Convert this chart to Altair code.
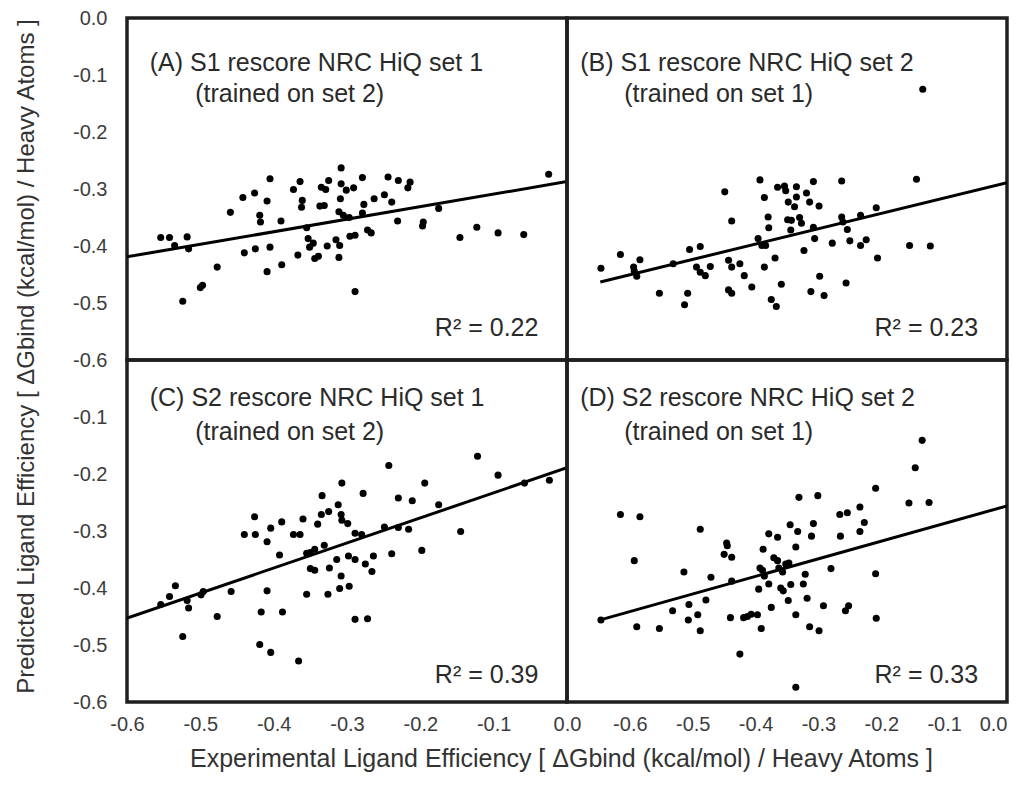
import altair as alt
import pandas as pd

# ---------------- data ----------------
# Panel A: S1 rescore NRC HiQ set 1 (trained on set 2)
a_x = [-0.554, -0.542, -0.535, -0.518, -0.516, -0.524, -0.500, -0.497, -0.477, -0.459,
       -0.442, -0.426, -0.409, -0.405, -0.419, -0.418, -0.390, -0.440, -0.425, -0.405,
       -0.409, -0.389, -0.373, -0.364, -0.361, -0.362, -0.335, -0.329, -0.325, -0.337,
       -0.331, -0.308, -0.308, -0.301, -0.291, -0.279, -0.309, -0.311, -0.305, -0.297,
       -0.277, -0.279, -0.263, -0.249, -0.239, -0.244, -0.230, -0.214, -0.217, -0.355,
       -0.367, -0.353, -0.346, -0.351, -0.344, -0.339, -0.327, -0.315, -0.310, -0.311,
       -0.296, -0.289, -0.272, -0.267, -0.231, -0.196, -0.197, -0.175, -0.146, -0.123,
       -0.094, -0.059, -0.025, -0.289]
a_y = [-0.385, -0.385, -0.399, -0.384, -0.405, -0.497, -0.473, -0.469, -0.437, -0.341,
       -0.315, -0.307, -0.321, -0.282, -0.346, -0.358, -0.356, -0.412, -0.405, -0.402,
       -0.445, -0.433, -0.301, -0.287, -0.320, -0.332, -0.297, -0.301, -0.285, -0.330,
       -0.329, -0.263, -0.291, -0.302, -0.298, -0.280, -0.317, -0.340, -0.346, -0.350,
       -0.327, -0.342, -0.317, -0.310, -0.323, -0.279, -0.285, -0.288, -0.298, -0.368,
       -0.416, -0.387, -0.395, -0.402, -0.422, -0.418, -0.400, -0.389, -0.399, -0.420,
       -0.383, -0.381, -0.372, -0.377, -0.356, -0.358, -0.365, -0.334, -0.385, -0.367,
       -0.377, -0.380, -0.274, -0.480]

# Panel B: S1 rescore NRC HiQ set 2 (trained on set 1)
b_x = [-0.646, -0.615, -0.594, -0.584, -0.589, -0.593, -0.531, -0.553, -0.505, -0.488,
       -0.508, -0.513, -0.494, -0.488, -0.480, -0.472, -0.449, -0.438, -0.443, -0.438,
       -0.425, -0.418, -0.443, -0.438, -0.406, -0.393, -0.386, -0.380, -0.379, -0.396,
       -0.390, -0.384, -0.386, -0.369, -0.359, -0.375, -0.367, -0.365, -0.354, -0.352,
       -0.335, -0.319, -0.348, -0.338, -0.335, -0.349, -0.343, -0.330, -0.327, -0.344,
       -0.323, -0.314, -0.299, -0.308, -0.308, -0.306, -0.312, -0.291, -0.298, -0.278,
       -0.263, -0.263, -0.261, -0.254, -0.250, -0.233, -0.233, -0.224, -0.256, -0.208,
       -0.206, -0.155, -0.122, -0.144, -0.134]
b_y = [-0.439, -0.415, -0.437, -0.424, -0.453, -0.444, -0.431, -0.483, -0.406, -0.401,
       -0.483, -0.503, -0.437, -0.446, -0.452, -0.436, -0.305, -0.356, -0.425, -0.437,
       -0.431, -0.452, -0.477, -0.483, -0.472, -0.284, -0.315, -0.349, -0.368, -0.387,
       -0.399, -0.399, -0.437, -0.421, -0.467, -0.494, -0.506, -0.297, -0.295, -0.303,
       -0.296, -0.307, -0.323, -0.331, -0.314, -0.354, -0.355, -0.350, -0.360, -0.372,
       -0.408, -0.323, -0.330, -0.287, -0.367, -0.387, -0.480, -0.487, -0.453, -0.395,
       -0.286, -0.349, -0.358, -0.371, -0.391, -0.346, -0.399, -0.389, -0.465, -0.333,
       -0.421, -0.399, -0.400, -0.283, -0.125]

# Panel C: S2 rescore NRC HiQ set 1 (trained on set 2)
c_x = [-0.554, -0.542, -0.534, -0.518, -0.516, -0.524, -0.499, -0.496, -0.477, -0.458,
       -0.440, -0.425, -0.426, -0.409, -0.404, -0.389, -0.392, -0.409, -0.417, -0.388,
       -0.419, -0.404, -0.366, -0.373, -0.364, -0.360, -0.355, -0.350, -0.344, -0.331,
       -0.350, -0.344, -0.355, -0.340, -0.335, -0.325, -0.334, -0.312, -0.308, -0.307,
       -0.299, -0.307, -0.289, -0.280, -0.278, -0.324, -0.314, -0.326, -0.308, -0.310,
       -0.297, -0.298, -0.289, -0.275, -0.266, -0.264, -0.289, -0.272, -0.249, -0.243,
       -0.239, -0.230, -0.230, -0.216, -0.211, -0.198, -0.194, -0.175, -0.145, -0.122,
       -0.094, -0.058, -0.024]
c_y = [-0.429, -0.415, -0.396, -0.422, -0.435, -0.485, -0.412, -0.406, -0.450, -0.406,
       -0.306, -0.306, -0.275, -0.319, -0.295, -0.284, -0.342, -0.405, -0.442, -0.442,
       -0.499, -0.513, -0.528, -0.306, -0.306, -0.279, -0.339, -0.338, -0.332, -0.325,
       -0.366, -0.369, -0.411, -0.288, -0.271, -0.266, -0.238, -0.254, -0.271, -0.281,
       -0.287, -0.216, -0.304, -0.306, -0.234, -0.365, -0.350, -0.411, -0.379, -0.401,
       -0.397, -0.344, -0.350, -0.358, -0.371, -0.344, -0.455, -0.454, -0.293, -0.185,
       -0.340, -0.242, -0.294, -0.297, -0.247, -0.334, -0.216, -0.254, -0.301, -0.169,
       -0.202, -0.216, -0.211]

# Panel D: S2 rescore NRC HiQ set 2 (trained on set 1)
d_x = [-0.646, -0.615, -0.584, -0.593, -0.589, -0.553, -0.532, -0.514, -0.506, -0.492,
       -0.507, -0.488, -0.488, -0.479, -0.471, -0.446, -0.445, -0.450, -0.438, -0.438,
       -0.440, -0.425, -0.419, -0.413, -0.407, -0.397, -0.395, -0.391, -0.388, -0.393,
       -0.389, -0.386, -0.379, -0.379, -0.365, -0.375, -0.371, -0.365, -0.363, -0.357,
       -0.360, -0.356, -0.348, -0.344, -0.352, -0.347, -0.345, -0.336, -0.331, -0.333,
       -0.336, -0.321, -0.324, -0.318, -0.314, -0.299, -0.311, -0.308, -0.301, -0.292,
       -0.280, -0.266, -0.254, -0.265, -0.257, -0.252, -0.234, -0.234, -0.227, -0.209,
       -0.209, -0.208, -0.156, -0.146, -0.135, -0.124, -0.336]
d_y = [-0.456, -0.271, -0.275, -0.352, -0.468, -0.471, -0.440, -0.372, -0.429, -0.447,
       -0.456, -0.297, -0.475, -0.421, -0.381, -0.321, -0.326, -0.341, -0.346, -0.388,
       -0.452, -0.516, -0.452, -0.450, -0.446, -0.447, -0.402, -0.471, -0.332, -0.365,
       -0.369, -0.379, -0.393, -0.305, -0.311, -0.434, -0.347, -0.352, -0.365, -0.372,
       -0.400, -0.405, -0.422, -0.394, -0.358, -0.356, -0.289, -0.328, -0.241, -0.301,
       -0.447, -0.376, -0.393, -0.418, -0.468, -0.475, -0.309, -0.287, -0.238, -0.431,
       -0.366, -0.271, -0.268, -0.309, -0.440, -0.431, -0.258, -0.301, -0.285, -0.225,
       -0.375, -0.453, -0.251, -0.189, -0.141, -0.250, -0.574]

# fitted lines (intercept at x = 0, slope, first x)
fit_intercept = [-0.287, -0.289, -0.189, -0.256]
fit_slope = [0.220, 0.269, 0.440, 0.309]
fit_start = [-0.65, -0.647, -0.65, -0.647]

panel_line1 = ["(A) S1 rescore NRC HiQ set 1", "(B) S1 rescore NRC HiQ set 2",
               "(C) S2 rescore NRC HiQ set 1", "(D) S2 rescore NRC HiQ set 2"]
panel_line2 = ["(trained on set 2)", "(trained on set 1)",
               "(trained on set 2)", "(trained on set 1)"]
r_squared = ["0.22", "0.23", "0.39", "0.33"]

x_domains = [[-0.6, 0.0], [-0.7, 0.0], [-0.6, 0.0], [-0.7, 0.0]]
x_tick_values = [-0.6, -0.5, -0.4, -0.3, -0.2, -0.1, 0.0]
y_tick_top = [0.0, -0.1, -0.2, -0.3, -0.4, -0.5, -0.6]
y_tick_bottom = [-0.1, -0.2, -0.3, -0.4, -0.5, -0.6]

x_title = "Experimental Ligand Efficiency [ \u0394Gbind (kcal/mol) / Heavy Atoms ]"
y_title = "Predicted Ligand Efficiency [ \u0394Gbind (kcal/mol) / Heavy Atoms ]"

# annotation anchors in data units
ann_x1 = [-0.569, -0.679, -0.569, -0.679]
ann_x2 = [-0.507, -0.609, -0.507, -0.609]
ann_xr = [-0.039, -0.046, -0.039, -0.046]
ann_y1 = [-0.079, -0.079, -0.066, -0.066]
ann_y2 = [-0.133, -0.133, -0.126, -0.126]
ann_yr = [-0.543, -0.543, -0.553, -0.553]

W, H = 440, 342
FONT = "Liberation Sans"
LABEL_EXPR = "replace(format(datum.value, '.1f'), '\u2212', '-')"

datasets = [(a_x, a_y), (b_x, b_y), (c_x, c_y), (d_x, d_y)]


def make_panel(i):
    xs, ys = datasets[i]
    pts = pd.DataFrame({"x": xs, "y": ys})
    x0 = fit_start[i]
    line = pd.DataFrame({"x": [x0, 0.0],
                         "y": [fit_intercept[i] + fit_slope[i] * x0, fit_intercept[i]]})
    left = i in (0, 2)
    bottom = i in (2, 3)

    xscale = alt.Scale(domain=x_domains[i], nice=False, zero=False)
    yscale = alt.Scale(domain=[-0.6, 0.0], nice=False, zero=False)

    if bottom:
        if left:
            xaxis = alt.Axis(values=x_tick_values, labelExpr=LABEL_EXPR, ticks=False,
                             domain=False, grid=False, labelPadding=12, labelFlush=False,
                             title=x_title, titleX=434, titleY=56, titleAlign="center",
                             titleBaseline="middle", titleAngle=0, titleFontSize=25)
        else:
            xaxis = alt.Axis(values=x_tick_values, labelExpr=LABEL_EXPR, ticks=False,
                             domain=False, grid=False, labelPadding=12, labelFlush=True,
                             title=None)
    else:
        xaxis = None

    if left:
        if bottom:
            yaxis = alt.Axis(values=y_tick_bottom, labelExpr=LABEL_EXPR, ticks=False,
                             domain=False, grid=False, labelPadding=20, labelFlush=False,
                             title=None)
        else:
            yaxis = alt.Axis(values=y_tick_top, labelExpr=LABEL_EXPR, ticks=False,
                             domain=False, grid=False, labelPadding=20, labelFlush=False,
                             title=y_title, titleX=-101, titleY=338, titleAlign="center",
                             titleBaseline="middle", titleAngle=270, titleFontSize=24)
    else:
        yaxis = None

    enc_x = alt.X("x:Q", scale=xscale, axis=xaxis)
    enc_y = alt.Y("y:Q", scale=yscale, axis=yaxis)

    dots = alt.Chart(pts).mark_circle(size=50, color="black", opacity=1).encode(
        x=enc_x, y=enc_y)
    fit = alt.Chart(line).mark_line(color="black", strokeWidth=3, clip=True).encode(
        x="x:Q", y="y:Q")

    ann = pd.DataFrame({
        "x": [ann_x1[i], ann_x2[i]],
        "y": [ann_y1[i], ann_y2[i]],
        "t": [panel_line1[i], panel_line2[i]],
    })
    labels = alt.Chart(ann).mark_text(align="left", baseline="middle", fontSize=25,
                                      font=FONT, color="#2a2a2a").encode(
        x="x:Q", y="y:Q", text="t:N")
    r2 = pd.DataFrame({"x": [ann_xr[i]], "y": [ann_yr[i]],
                       "t": ["R\u00b2  = " + r_squared[i]]})
    r2_text = alt.Chart(r2).mark_text(align="right", baseline="middle", fontSize=25,
                                      font=FONT, color="#2a2a2a").encode(
        x="x:Q", y="y:Q", text="t:N")

    return alt.layer(dots, fit, labels, r2_text).properties(width=W, height=H)


chart = alt.concat(
    make_panel(0), make_panel(1), make_panel(2), make_panel(3),
    columns=2, spacing=0, bounds="flush"
).properties(
    padding={"left": 12, "top": 6, "right": 4, "bottom": 5}
).configure(font=FONT).configure_view(
    stroke="#1e1e1e", strokeWidth=3.5
).configure_axis(
    labelFont=FONT, labelFontSize=20, labelColor="#3c3c3c",
    titleFont=FONT, titleFontSize=25, titleFontWeight="normal", titleColor="#333333"
)

chart.save("out.html", embed_options={"renderer": "svg", "actions": False})
